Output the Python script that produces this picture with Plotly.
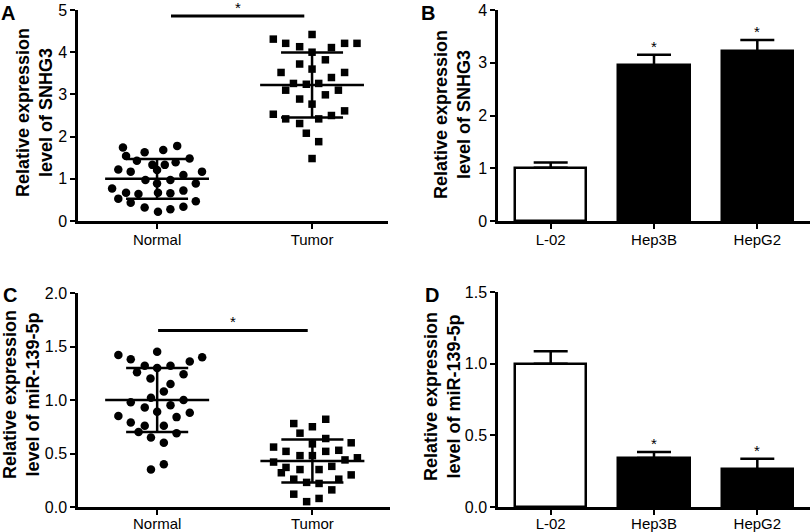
import plotly.graph_objects as go

# ---------------- data ----------------
# Panel A: SNHG3 in tissues (x offsets are the horizontal scatter positions)
a_normal_val = [1.74, 1.68, 1.78, 1.63, 1.54, 1.48, 1.43, 1.33, 1.33, 1.39, 1.22, 1.17, 1.17,
                0.97, 0.89, 0.97, 1.09, 0.89, 0.77, 0.67, 0.64, 0.67, 0.66, 0.72, 0.53, 0.43,
                0.47, 0.32, 0.22, 0.28, 0.34, 1.21]
a_normal_off = [-0.22, 0.04, 0.13, -0.08, -0.20, 0.21, -0.13, -0.03, 0.05, 0.12, -0.25, -0.17, 0.29,
                -0.075, 0.0, 0.086, 0.17, 0.25, -0.29, -0.20, -0.12, 0.006, 0.086, 0.17, -0.25, -0.17,
                0.25, -0.08, 0.006, 0.086, 0.17, 0.0]
a_tumor_val = [4.31, 4.21, 4.13, 4.42, 4.11, 4.21, 4.21, 4.00, 3.72, 3.82, 3.52, 3.60, 3.40, 3.52,
               3.26, 3.10, 3.26, 3.24, 2.99, 3.10, 2.89, 2.77, 2.53, 2.42, 2.31, 2.42, 2.50, 2.61,
               2.08, 1.88, 1.48]
a_tumor_off = [-0.25, -0.17, -0.08, 0.0, 0.125, 0.21, 0.29, 0.0, -0.08, 0.086, -0.20, 0.0, 0.125, 0.21,
               -0.12, -0.17, 0.043, -0.037, 0.086, 0.17, -0.08, 0.0, -0.25, -0.17, -0.08, 0.043, 0.125,
               0.21, -0.037, 0.043, 0.0]
a_mean = [1.00, 3.22]
a_sd = [0.47, 0.77]

# Panel C: miR-139-5p in tissues
c_normal_val = [1.42, 1.38, 1.45, 1.40, 1.36, 1.32, 1.32, 1.30, 1.26, 1.24, 1.20, 1.15, 1.08, 1.02,
                0.98, 1.00, 0.93, 0.95, 0.89, 0.85, 0.84, 0.88, 0.79, 0.76, 0.76, 0.70, 0.69, 0.65,
                0.60, 0.40, 0.35]
c_normal_off = [-0.25, -0.17, 0.0, 0.29, 0.21, -0.08, 0.086, 0.0, -0.13, 0.17, -0.043, 0.086, 0.043,
                -0.04, -0.17, 0.17, -0.08, 0.086, 0.0, -0.25, 0.125, 0.21, -0.17, -0.08, 0.043, -0.12,
                0.125, -0.04, 0.043, 0.043, -0.04]
c_tumor_val = [0.78, 0.75, 0.82, 0.69, 0.64, 0.59, 0.56, 0.52, 0.48, 0.48, 0.52, 0.53, 0.60, 0.46,
               0.42, 0.44, 0.37, 0.35, 0.35, 0.38, 0.32, 0.30, 0.26, 0.23, 0.22, 0.26, 0.16, 0.12,
               0.08, 0.05]
c_tumor_off = [-0.12, 0.0, 0.086, -0.08, 0.086, 0.0, -0.25, -0.17, -0.08, 0.0, 0.086, 0.17, 0.25, 0.29,
               -0.25, 0.21, -0.17, -0.08, 0.043, 0.125, -0.20, 0.25, -0.12, -0.037, 0.043, 0.17, 0.125,
               -0.12, 0.043, -0.037]
c_mean = [1.00, 0.43]
c_sd = [0.30, 0.20]

tissue_labels = ["Normal", "Tumor"]

# Panel B / D: cell lines
cell_labels = ["L-02", "Hep3B", "HepG2"]
b_mean = [1.01, 2.95, 3.22]
b_err = [0.10, 0.20, 0.21]
d_mean = [1.00, 0.342, 0.263]
d_err = [0.086, 0.042, 0.074]
bar_colors = ["white", "black", "black"]
sig_b = ["", "*", "*"]
sig_d = ["", "*", "*"]

# ---------------- figure ----------------
W, H = 810, 532
FONT = "Arial, Liberation Sans, Helvetica, sans-serif"
fig = go.Figure()


def px_x(p):
    return p / W


def px_y(p):
    return 1 - p / H


dom = {
    "A": ([px_x(78), px_x(388)], [px_y(221), px_y(10)]),
    "B": ([px_x(498), 1.0], [px_y(221), px_y(10)]),
    "C": ([px_x(78), px_x(390)], [px_y(507), px_y(293)]),
    "D": ([px_x(498), 1.0], [px_y(507), px_y(292)]),
}


def scatter_panel(ax, nval, noff, tval, toff, mean, sd):
    xa = "x" if ax == 1 else f"x{ax}"
    ya = "y" if ax == 1 else f"y{ax}"
    fig.add_trace(go.Scatter(x=[0 + o for o in noff], y=nval, mode="markers", xaxis=xa, yaxis=ya,
                             marker=dict(symbol="circle", size=8.5, color="black"), showlegend=False,
                             hoverinfo="skip"))
    fig.add_trace(go.Scatter(x=[1 + o for o in toff], y=tval, mode="markers", xaxis=xa, yaxis=ya,
                             marker=dict(symbol="square", size=7.5, color="black"), showlegend=False,
                             hoverinfo="skip"))
    for i in range(2):
        m, s = mean[i], sd[i]
        ln = dict(color="black", width=2.5)
        fig.add_shape(type="line", xref=xa, yref=ya, x0=i - 0.335, x1=i + 0.335, y0=m, y1=m, line=ln)
        fig.add_shape(type="line", xref=xa, yref=ya, x0=i, x1=i, y0=m - s, y1=m + s, line=ln)
        fig.add_shape(type="line", xref=xa, yref=ya, x0=i - 0.2, x1=i + 0.2, y0=m + s, y1=m + s, line=ln)
        fig.add_shape(type="line", xref=xa, yref=ya, x0=i - 0.2, x1=i + 0.2, y0=m - s, y1=m - s, line=ln)


def bar_panel(ax, vals, errs, sig):
    xa = f"x{ax}"
    ya = f"y{ax}"
    fig.add_trace(go.Bar(x=[0, 1, 2], y=vals, width=0.69, xaxis=xa, yaxis=ya,
                         marker=dict(color=bar_colors, line=dict(color="black", width=2.5)),
                         error_y=dict(type="data", symmetric=False, array=errs, arrayminus=[0, 0, 0],
                                      color="black", thickness=2.5, width=17),
                         showlegend=False, hoverinfo="skip"))
    for i in range(3):
        if sig[i]:
            fig.add_annotation(x=i, y=vals[i] + errs[i], xref=xa, yref=ya, text=sig[i],
                               showarrow=False, yanchor="bottom", yshift=-2,
                               font=dict(size=15, color="black", family=FONT))


scatter_panel(1, a_normal_val, a_normal_off, a_tumor_val, a_tumor_off, a_mean, a_sd)
bar_panel(2, b_mean, b_err, sig_b)
scatter_panel(3, c_normal_val, c_normal_off, c_tumor_val, c_tumor_off, c_mean, c_sd)
bar_panel(4, d_mean, d_err, sig_d)

# significance bars on scatter panels
fig.add_shape(type="line", xref="x", yref="y", x0=0.09, x1=0.95, y0=4.86, y1=4.86,
              line=dict(color="black", width=3))
fig.add_annotation(x=0.52, y=4.86, xref="x", yref="y", text="*", showarrow=False, yanchor="bottom",
                   yshift=-2, font=dict(size=15, color="black", family=FONT))
fig.add_shape(type="line", xref="x3", yref="y3", x0=0.006, x1=0.97, y0=1.65, y1=1.65,
              line=dict(color="black", width=3))
fig.add_annotation(x=0.49, y=1.65, xref="x3", yref="y3", text="*", showarrow=False, yanchor="bottom",
                   yshift=-2, font=dict(size=15, color="black", family=FONT))

axis_common = dict(showline=True, linecolor="black", linewidth=2.5, ticks="outside", ticklen=5,
                   tickwidth=2, tickcolor="black", showgrid=False, zeroline=False, automargin=False,
                   tickfont=dict(size=16, color="black", family=FONT))

lay = dict(
    width=W, height=H, margin=dict(l=0, r=0, t=0, b=0, pad=0), autosize=False,
    plot_bgcolor="white", paper_bgcolor="white", font=dict(family=FONT, color="black"),
    xaxis=dict(domain=dom["A"][0], anchor="y", range=[-0.51, 1.49], tickvals=[0, 1],
               ticktext=tissue_labels, **axis_common),
    yaxis=dict(domain=dom["A"][1], anchor="x", range=[0, 5], tickvals=[0, 1, 2, 3, 4, 5], **axis_common),
    xaxis2=dict(domain=dom["B"][0], anchor="y2", range=[-0.51, 2.51], tickvals=[0, 1, 2],
                ticktext=cell_labels, **axis_common),
    yaxis2=dict(domain=dom["B"][1], anchor="x2", range=[0, 4], tickvals=[0, 1, 2, 3, 4], **axis_common),
    xaxis3=dict(domain=dom["C"][0], anchor="y3", range=[-0.51, 1.5], tickvals=[0, 1],
                ticktext=tissue_labels, **axis_common),
    yaxis3=dict(domain=dom["C"][1], anchor="x3", range=[0, 2], tickvals=[0, 0.5, 1, 1.5, 2],
                tickformat=".1f", **axis_common),
    xaxis4=dict(domain=dom["D"][0], anchor="y4", range=[-0.51, 2.51], tickvals=[0, 1, 2],
                ticktext=cell_labels, **axis_common),
    yaxis4=dict(domain=dom["D"][1], anchor="x4", range=[0, 1.5], tickvals=[0, 0.5, 1, 1.5],
                tickformat=".1f", **axis_common),
    bargap=0,
)
fig.update_layout(**lay)
fig.update_xaxes(tickfont=dict(size=15))
fig.update_layout(xaxis_ticklabelstandoff=-2, xaxis2_ticklabelstandoff=-2,
                  xaxis3_ticklabelstandoff=-4, xaxis4_ticklabelstandoff=-4)

# y-axis titles
titles = [
    ("Relative expression<br>level of SNHG3", 35, 113),
    ("Relative expression<br>level of SNHG3", 453, 115),
    ("Relative expression<br>level of miR-139-5p", 22, 395),
    ("Relative expression<br>level of miR-139-5p", 442, 397),
]
for t, xp, yp in titles:
    fig.add_annotation(x=px_x(xp), y=px_y(yp), xref="paper", yref="paper", text=f"<b>{t}</b>",
                       textangle=-90, showarrow=False, xanchor="center", yanchor="middle",
                       font=dict(size=18, color="black", family=FONT))

# panel letters
letters = [("A", 8, 0, "top"), ("B", 428, 0, "top"), ("C", 10, 295, "middle"), ("D", 432, 295, "middle")]
for t, xp, yp, ya in letters:
    fig.add_annotation(x=px_x(xp), y=px_y(yp), xref="paper", yref="paper", text=f"<b>{t}</b>",
                       showarrow=False, xanchor="center", yanchor=ya,
                       font=dict(size=20, color="black", family=FONT))

fig.write_html("out.html", config={"displayModeBar": False},
               post_script="document.body.style.margin='0';document.body.style.overflow='hidden';")
